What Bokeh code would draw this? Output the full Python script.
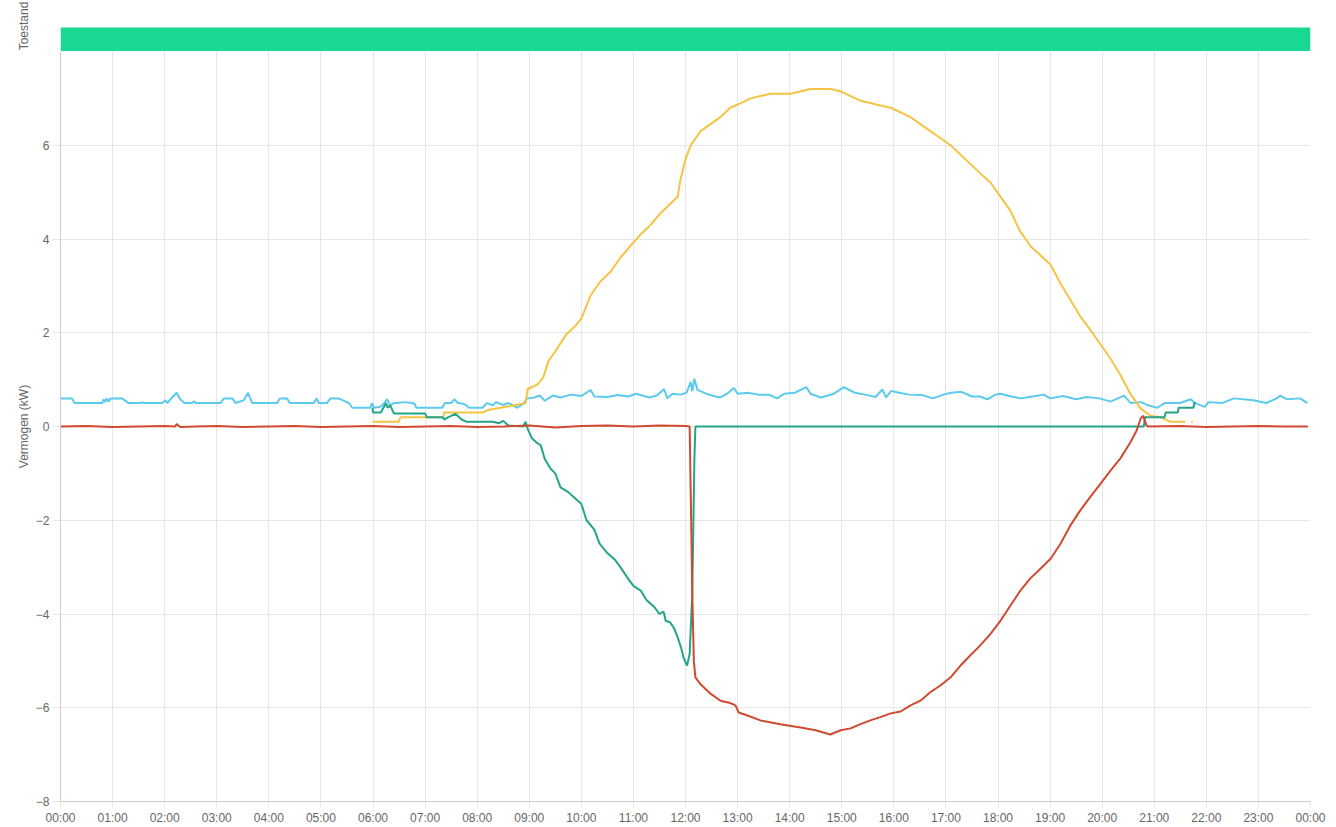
from bokeh.plotting import figure
from bokeh.layouts import column
from bokeh.models import Range1d, FixedTicker
from bokeh.embed import file_html
from bokeh.resources import INLINE

# ---------------- data ----------------
x_ticks = list(range(25))
x_tick_labels = ["00:00", "01:00", "02:00", "03:00", "04:00", "05:00", "06:00", "07:00",
                 "08:00", "09:00", "10:00", "11:00", "12:00", "13:00", "14:00", "15:00",
                 "16:00", "17:00", "18:00", "19:00", "20:00", "21:00", "22:00", "23:00", "00:00"]
y_ticks = [-8, -6, -4, -2, 0, 2, 4, 6]

toestand_start = [0]
toestand_end = [24]

verbruik_t = [0.0, 0.22, 0.27, 0.8, 0.83, 0.86, 0.89, 0.92, 0.96, 1.18, 1.31, 1.55, 1.57, 1.6, 1.95,
              2.02, 2.05, 2.11, 2.23, 2.3, 2.38, 2.53, 2.56, 2.6, 3.07, 3.14, 3.3, 3.36, 3.52, 3.6,
              3.68, 4.16, 4.21, 4.35, 4.4, 4.86, 4.92, 4.96, 5.12, 5.18, 5.34, 5.54, 5.6, 5.95, 5.98,
              6.02, 6.14, 6.2, 6.27, 6.33, 6.4, 6.46, 6.6, 6.75, 6.8, 6.83, 7.33, 7.38, 7.5, 7.56,
              7.63, 7.75, 7.85, 8.1, 8.19, 8.3, 8.36, 8.5, 8.6, 8.77, 8.9, 8.96, 9.1, 9.2, 9.3,
              9.45, 9.6, 9.8, 10.0, 10.18, 10.25, 10.5, 10.7, 10.9, 11.05, 11.3, 11.45, 11.59, 11.65,
              11.75, 11.9, 12.02, 12.1, 12.13, 12.17, 12.23, 12.4, 12.54, 12.67, 12.8, 12.93, 13.0,
              13.2, 13.4, 13.6, 13.76, 13.9, 14.1, 14.32, 14.4, 14.6, 14.85, 15.04, 15.25, 15.45,
              15.65, 15.78, 15.85, 15.95, 16.1, 16.3, 16.55, 16.75, 16.95, 17.1, 17.3, 17.5, 17.65,
              17.8, 17.95, 18.05, 18.25, 18.45, 18.6, 18.88, 19.0, 19.25, 19.5, 19.7, 19.95, 20.16,
              20.42, 20.55, 20.75, 20.86, 21.06, 21.2, 21.5, 21.7, 21.78, 21.97, 22.04, 22.3, 22.53,
              22.9, 23.15, 23.35, 23.42, 23.55, 23.8, 23.94]
verbruik_v = [0.6, 0.6, 0.5, 0.5, 0.58, 0.52, 0.6, 0.53, 0.6, 0.6, 0.5, 0.5, 0.52, 0.5, 0.5,
              0.56, 0.5, 0.58, 0.72, 0.58, 0.5, 0.5, 0.54, 0.5, 0.5, 0.6, 0.6, 0.5, 0.56, 0.72,
              0.5, 0.5, 0.6, 0.6, 0.5, 0.5, 0.6, 0.5, 0.5, 0.6, 0.6, 0.5, 0.4, 0.4, 0.5,
              0.4, 0.42, 0.48, 0.58, 0.45, 0.5, 0.5, 0.52, 0.5, 0.48, 0.4, 0.4, 0.5, 0.5, 0.58,
              0.5, 0.48, 0.4, 0.4, 0.5, 0.45, 0.52, 0.46, 0.5, 0.4, 0.5, 0.6, 0.62, 0.66, 0.55,
              0.66, 0.62, 0.68, 0.65, 0.78, 0.64, 0.63, 0.67, 0.64, 0.7, 0.62, 0.66, 0.8, 0.6,
              0.7, 0.68, 0.72, 0.95, 0.75, 1.02, 0.78, 0.7, 0.65, 0.62, 0.7, 0.82, 0.7,
              0.72, 0.68, 0.68, 0.6, 0.7, 0.72, 0.84, 0.7, 0.62, 0.7, 0.84, 0.72, 0.68,
              0.63, 0.79, 0.62, 0.76, 0.72, 0.68, 0.67, 0.6, 0.68, 0.72, 0.74, 0.64, 0.64,
              0.58, 0.68, 0.7, 0.64, 0.6, 0.63, 0.68, 0.6, 0.65, 0.58, 0.63, 0.6, 0.53,
              0.66, 0.5, 0.52, 0.46, 0.4, 0.5, 0.5, 0.58, 0.5, 0.42, 0.52, 0.5, 0.6,
              0.56, 0.5, 0.6, 0.66, 0.58, 0.6, 0.5]

zon_t = [5.99, 6.49, 6.53, 7.35, 7.37, 8.12, 8.2, 8.45, 8.7, 8.93, 8.97, 9.16, 9.27, 9.37, 9.5,
         9.7, 9.89, 10.0, 10.18, 10.37, 10.56, 10.75, 10.94, 11.14, 11.33, 11.52, 11.71, 11.85,
         11.9, 12.0, 12.1, 12.29, 12.48, 12.67, 12.86, 13.06, 13.25, 13.44, 13.63, 14.02, 14.4,
         14.78, 14.98, 15.17, 15.36, 15.55, 15.74, 15.94, 16.13, 16.32, 16.51, 16.7, 16.9, 17.09,
         17.28, 17.47, 17.66, 17.86, 18.05, 18.24, 18.43, 18.53, 18.62, 18.82, 19.01, 19.2, 19.39,
         19.58, 19.78, 19.97, 20.16, 20.35, 20.54, 20.74, 20.93, 21.12, 21.31, 21.6,
         float("nan"), 21.71, 21.74]
zon_v = [0.1, 0.1, 0.2, 0.2, 0.3, 0.3, 0.35, 0.4, 0.45, 0.5, 0.8, 0.9, 1.05, 1.4, 1.6,
         1.95, 2.15, 2.3, 2.8, 3.1, 3.3, 3.6, 3.85, 4.1, 4.3, 4.55, 4.75, 4.9,
         5.25, 5.7, 6.0, 6.3, 6.45, 6.6, 6.8, 6.9, 7.0, 7.05, 7.1, 7.1, 7.2,
         7.2, 7.15, 7.05, 6.95, 6.9, 6.85, 6.8, 6.7, 6.6, 6.45, 6.3, 6.15, 6.0,
         5.8, 5.6, 5.4, 5.2, 4.9, 4.6, 4.15, 4.0, 3.85, 3.65, 3.45, 3.05, 2.7,
         2.35, 2.05, 1.75, 1.45, 1.1, 0.7, 0.38, 0.23, 0.2, 0.1, 0.1,
         float("nan"), 0.1, 0.1]

batterij_t = [5.99, 6.0, 6.15, 6.25, 6.28, 6.33, 6.4, 7.0, 7.03, 7.33, 7.37, 7.45, 7.58, 7.7, 7.8,
              8.3, 8.42, 8.5, 8.6, 8.88, 8.93, 8.97, 9.05, 9.15, 9.22, 9.3, 9.41, 9.5, 9.6, 9.75,
              9.9, 10.0, 10.1, 10.25, 10.35, 10.5, 10.65, 10.75, 10.9, 11.0, 11.14, 11.25, 11.4,
              11.5, 11.58, 11.62, 11.7, 11.78, 11.85, 11.91, 11.97, 12.03, 12.08, 12.13, 12.17,
              12.19, 20.8, 20.82, 21.2, 21.22, 21.45, 21.47, 21.75, 21.77, 21.8]
batterij_v = [0.4, 0.3, 0.3, 0.5, 0.4, 0.45, 0.28, 0.28, 0.2, 0.2, 0.15, 0.2, 0.27, 0.15, 0.1,
              0.1, 0.07, 0.12, 0.02, 0.0, 0.1, -0.05, -0.25, -0.35, -0.4, -0.7, -0.9, -1.0, -1.3, -1.4,
              -1.55, -1.65, -2.0, -2.2, -2.5, -2.7, -2.85, -3.0, -3.25, -3.4, -3.5, -3.7, -3.85,
              -4.0, -3.95, -4.15, -4.17, -4.3, -4.5, -4.7, -4.95, -5.1, -4.85, -3.57, -0.73,
              0.0, 0.0, 0.2, 0.2, 0.3, 0.3, 0.4, 0.4, 0.5, 0.5]

net_t = [0.0, 0.5, 1.0, 1.5, 2.0, 2.2, 2.23, 2.3, 2.6, 3.0, 3.5, 4.0, 4.5, 5.0, 5.5, 6.0, 6.5, 7.0,
         7.5, 8.0, 8.5, 9.0, 9.5, 10.0, 10.5, 11.0, 11.5, 12.0, 12.08, 12.1, 12.13, 12.16, 12.19,
         12.29, 12.48, 12.67, 12.86, 12.96, 13.02, 13.15, 13.44, 13.82, 14.21, 14.5, 14.78, 14.98,
         15.17, 15.36, 15.55, 15.74, 15.94, 16.13, 16.32, 16.51, 16.7, 16.9, 17.09, 17.28, 17.47,
         17.66, 17.86, 18.05, 18.24, 18.43, 18.62, 18.82, 19.01, 19.2, 19.39, 19.58, 19.78, 19.97,
         20.16, 20.35, 20.54, 20.66, 20.74, 20.79, 20.85, 20.89, 21.5, 22.0, 22.5, 23.0, 23.5, 23.95]
net_v = [0.0, 0.01, -0.01, 0.0, 0.01, 0.0, 0.05, -0.01, 0.0, 0.01, -0.01, 0.0, 0.01, -0.01, 0.0,
         0.01, -0.01, 0.0, 0.01, -0.01, 0.0, 0.02, -0.02, 0.01, 0.02, 0.0, 0.02, 0.01, 0.0, -1.4,
         -3.55, -5.0, -5.35, -5.5, -5.7, -5.85, -5.9, -5.95, -6.1, -6.15, -6.27, -6.35, -6.42, -6.48,
         -6.57, -6.48, -6.44, -6.35, -6.27, -6.2, -6.12, -6.08, -5.95, -5.85, -5.67, -5.52, -5.35,
         -5.1, -4.88, -4.67, -4.42, -4.14, -3.82, -3.5, -3.24, -3.03, -2.82, -2.5, -2.11, -1.79,
         -1.49, -1.22, -0.94, -0.68, -0.34, -0.09, 0.17, 0.23, 0.02, 0.0, 0.01, -0.01, 0.0, 0.01,
         0.0, 0.0]

# ---------------- styling ----------------
FONT = "Liberation Sans"
TXT = "#666666"
GRID = "#e6e6e6"
AXIS = "#cccccc"

c_verbruik = "#5ccaef"
c_zon = "#f6c343"
c_batterij = "#23a48b"
c_net = "#cf4a2e"
c_toestand = "#19d992"

W = 1330

# ---- top strip: Toestand ----
top = figure(width=W, height=51, output_backend="svg", toolbar_location=None,
             x_range=Range1d(0, 24), y_range=Range1d(0, 51 / 24),
             min_border_left=60, min_border_right=20, min_border_top=0, min_border_bottom=0)
top.outline_line_color = None
top.xaxis.visible = False
top.xgrid.visible = False
top.ygrid.visible = False
top.quad(left=toestand_start, right=toestand_end, bottom=[0], top=[1],
         fill_color=c_toestand, line_color=None)
ya = top.yaxis[0]
ya.ticker = FixedTicker(ticks=[])
ya.axis_line_color = None
ya.major_tick_line_color = None
ya.minor_tick_line_color = None
ya.bounds = (0, 2)
ya.axis_label = "Toestand"
ya.axis_label_text_font = FONT
ya.axis_label_text_font_size = "12px"
ya.axis_label_text_font_style = "normal"
ya.axis_label_text_color = TXT
ya.axis_label_standoff = 30

# ---- main chart: Vermogen ----
p = figure(width=W, height=776, output_backend="svg", toolbar_location=None,
           x_range=top.x_range, y_range=Range1d(-8, 8),
           min_border_left=60, min_border_right=20, min_border_top=0, min_border_bottom=0)
p.outline_line_color = None

for t, v, c in [(verbruik_t, verbruik_v, c_verbruik),
                (zon_t, zon_v, c_zon),
                (batterij_t, batterij_v, c_batterij),
                (net_t, net_v, c_net)]:
    p.line(t, v, line_color=c, line_width=2)

p.xaxis.ticker = FixedTicker(ticks=x_ticks)
p.xaxis.major_label_overrides = dict(zip(x_ticks, x_tick_labels))
p.yaxis.ticker = FixedTicker(ticks=y_ticks)
p.xgrid.ticker = FixedTicker(ticks=x_ticks)
p.ygrid.ticker = FixedTicker(ticks=y_ticks)

for ax in (p.xaxis[0], p.yaxis[0]):
    ax.axis_line_color = AXIS
    ax.major_tick_line_color = GRID
    ax.major_tick_in = 0
    ax.minor_tick_line_color = None
    ax.major_label_text_font = FONT
    ax.major_label_text_font_size = "12px"
    ax.major_label_text_color = TXT
p.xaxis.major_tick_out = 6
p.xaxis.major_label_standoff = 3
p.yaxis.major_tick_out = 8
p.yaxis.major_label_standoff = 3

p.yaxis.axis_label = "Vermogen (kW)"
p.yaxis.axis_label_text_font = FONT
p.yaxis.axis_label_text_font_size = "12px"
p.yaxis.axis_label_text_font_style = "normal"
p.yaxis.axis_label_text_color = TXT
p.yaxis.axis_label_standoff = 2

p.xgrid.grid_line_color = GRID
p.ygrid.grid_line_color = GRID

layout = column(top, p, spacing=0)
open("out.html", "w").write(file_html(layout, INLINE))
